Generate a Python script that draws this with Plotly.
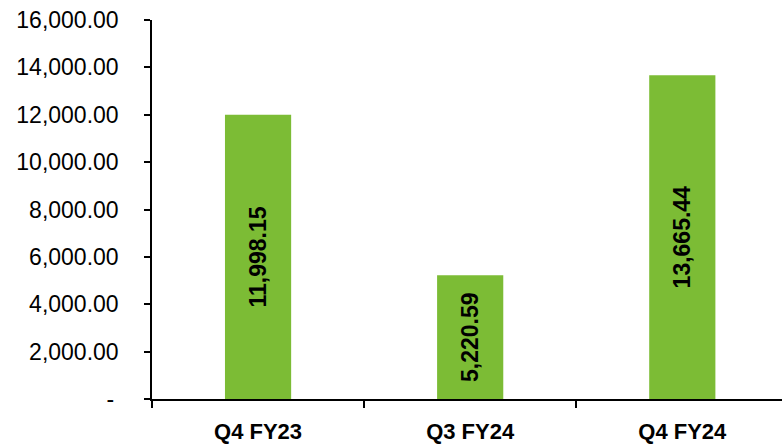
import plotly.graph_objects as go

categories = ["Q4 FY23", "Q3 FY24", "Q4 FY24"]
values = [11998.15, 5220.59, 13665.44]
bar_labels = ["11,998.15", "5,220.59", "13,665.44"]
y_tickvals = [0, 2000, 4000, 6000, 8000, 10000, 12000, 14000, 16000]
y_ticktext = ["-\u2009", "2,000.00", "4,000.00", "6,000.00", "8,000.00",
              "10,000.00", "12,000.00", "14,000.00", "16,000.00"]

BAR_COLOR = "#7cbc35"
FONT = "Liberation Sans"

fig = go.Figure()
fig.add_trace(go.Bar(
    x=categories,
    y=values,
    text=bar_labels,
    textposition="inside",
    insidetextanchor="middle",
    textangle=-90,
    textfont=dict(family=FONT, size=23, color="black", weight="bold"),
    marker=dict(color=BAR_COLOR, line=dict(width=0)),
    width=0.312,
    hoverinfo="skip",
))

fig.update_layout(
    width=782,
    height=447,
    margin=dict(l=152, r=0, t=20, b=48),
    paper_bgcolor="white",
    plot_bgcolor="white",
    showlegend=False,
    uniformtext=dict(minsize=23, mode="show"),
    font=dict(family=FONT, color="black"),
)

fig.update_xaxes(
    type="category",
    range=[-0.5, 2.47],
    showline=True,
    linecolor="black",
    linewidth=1.5,
    ticks="outside",
    tickson="boundaries",
    ticklen=7,
    tickcolor="black",
    tickwidth=1.5,
    tickfont=dict(family=FONT, size=22, color="black", weight="bold"),
    ticklabelstandoff=12,
    showgrid=False,
    zeroline=False,
    fixedrange=True,
)

fig.update_yaxes(
    range=[0, 16000],
    tickvals=y_tickvals,
    ticktext=y_ticktext,
    showline=True,
    linecolor="black",
    linewidth=1.5,
    ticks="outside",
    ticklen=6,
    tickcolor="black",
    tickwidth=1.5,
    tickfont=dict(family=FONT, size=23, color="black"),
    ticklabelstandoff=21,
    showgrid=False,
    zeroline=False,
    fixedrange=True,
)

fig.write_html("out.html", config={"displayModeBar": False})
